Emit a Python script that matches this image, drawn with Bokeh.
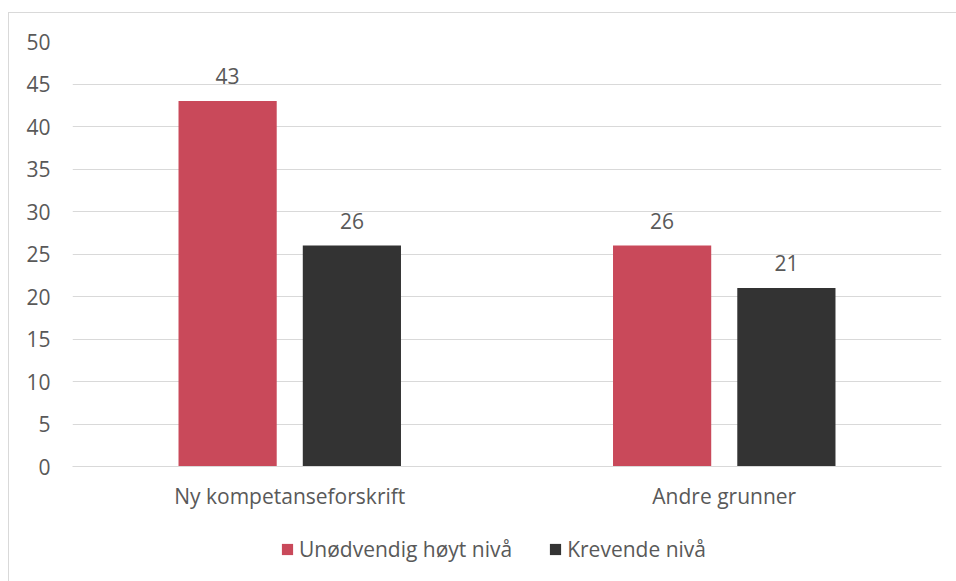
from bokeh.plotting import figure
from bokeh.layouts import column
from bokeh.models import ColumnDataSource, FactorRange, Legend, LegendItem, Range1d, FixedTicker
from bokeh.transform import dodge
from bokeh.core.properties import value
from bokeh.embed import file_html
from bokeh.resources import INLINE

categories = ["Ny kompetanseforskrift", "Andre grunner"]
series_names = ["Unødvendig høyt nivå", "Krevende nivå"]
unodvendig = [43, 26]
krevende = [26, 21]
y_ticks = [0, 5, 10, 15, 20, 25, 30, 35, 40, 45, 50]

colors = ["#C9495A", "#333333"]
FONT = "Open Sans"
TXT = "#595959"
FS = "21px"
BORDER = "1px solid #D9D9D9"

src = ColumnDataSource(dict(cat=categories, a=unodvendig, b=krevende,
                            la=[str(v) for v in unodvendig], lb=[str(v) for v in krevende]))

p = figure(x_range=FactorRange(factors=categories, range_padding=0), y_range=Range1d(0, 50),
           frame_width=868, frame_height=424, output_backend="svg", toolbar_location=None,
           min_border_left=63, min_border_right=17, min_border_top=28, min_border_bottom=60,
           styles={"margin-left": "8px", "margin-top": "12px",
                   "border-left": BORDER, "border-top": BORDER})
p.outline_line_color = None

r1 = p.vbar(x=dodge("cat", -0.143, range=p.x_range), top="a", width=0.226, source=src,
            color=colors[0], line_color=None)
r2 = p.vbar(x=dodge("cat", 0.143, range=p.x_range), top="b", width=0.226, source=src,
            color=colors[1], line_color=None)

for col, lab, off in (("a", "la", -0.143), ("b", "lb", 0.143)):
    p.text(x=dodge("cat", off, range=p.x_range), y=col, text=lab, source=src,
           text_align="center", text_baseline="bottom", y_offset=-17,
           text_font=value(FONT), text_font_size=FS, text_color=TXT)

p.yaxis.ticker = FixedTicker(ticks=y_ticks)
p.yaxis.axis_line_color = None
p.yaxis.major_tick_line_color = None
p.yaxis.minor_tick_line_color = None
p.yaxis.major_label_standoff = 16
p.yaxis.major_label_text_font = FONT
p.yaxis.major_label_text_font_size = FS
p.yaxis.major_label_text_color = TXT

p.xaxis.axis_line_color = "#D9D9D9"
p.xaxis.major_tick_line_color = None
p.xaxis.minor_tick_line_color = None
p.xaxis.major_label_standoff = 9
p.xaxis.major_label_text_font = FONT
p.xaxis.major_label_text_font_size = FS
p.xaxis.major_label_text_color = TXT

p.xgrid.grid_line_color = None
p.ygrid.grid_line_color = "#D9D9D9"
p.ygrid.grid_line_width = 1

# legend strip below the chart (its bars lie outside its visible range; only the key shows)
lg = figure(width=948, height=56, x_range=FactorRange(factors=categories), y_range=Range1d(100, 101),
            x_axis_location=None, y_axis_location=None,
            output_backend="svg", toolbar_location=None,
            min_border_left=0, min_border_right=0, min_border_top=0, min_border_bottom=0,
            styles={"margin-left": "8px", "border-left": BORDER})
lg.grid.grid_line_color = None
lg.outline_line_color = None
k1 = lg.vbar(x="cat", top="a", width=0.2, source=src, color=colors[0], line_color=None)
k2 = lg.vbar(x="cat", top="b", width=0.2, source=src, color=colors[1], line_color=None)

legend = Legend(items=[LegendItem(label=series_names[0], renderers=[k1]),
                       LegendItem(label=series_names[1], renderers=[k2])],
                orientation="horizontal", location=(208, 18),
                glyph_width=14, glyph_height=14, label_standoff=5, spacing=36,
                label_text_font=FONT, label_text_font_size=FS, label_text_color=TXT,
                border_line_color=None, background_fill_alpha=0, padding=0, margin=0)
lg.add_layout(legend, "center")

layout = column(p, lg, spacing=0)
open("out.html", "w").write(file_html(layout, INLINE))
